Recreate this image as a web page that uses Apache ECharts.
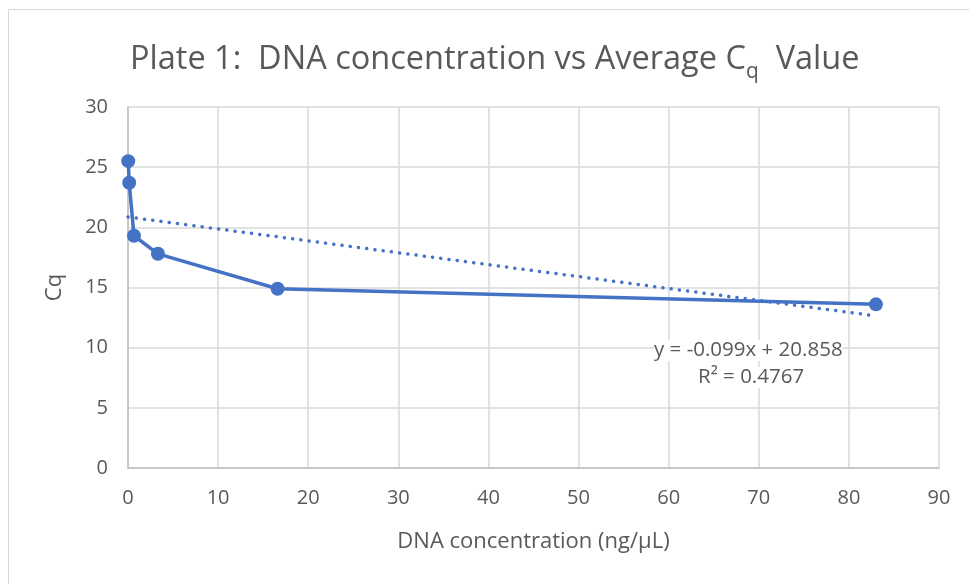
<!DOCTYPE html>
<html>
<head>
<meta charset="utf-8">
<script src="https://cdn.jsdelivr.net/npm/echarts@6/dist/echarts.min.js"></script>
<style>html,body{margin:0;padding:0;background:#fff}#c{width:969px;height:584px}</style>
</head>
<body>
<div id="c"></div>
<script>
// Data
var concentration = [0.0266, 0.133, 0.664, 3.32, 16.6, 83];
var cqValues = [25.5, 23.7, 19.3, 17.8, 14.9, 13.6];
var trendX = [0, 83];
var trendY = [20.858, 12.64];
var xTicks = [0, 10, 20, 30, 40, 50, 60, 70, 80, 90];
var yTicks = [0, 5, 10, 15, 20, 25, 30];
var trendLabel = ['y = -0.099x + 20.858', 'R² = 0.4767'];

var FONT = '"Open Sans", "Noto Sans", sans-serif';
var chart = echarts.init(document.getElementById('c'), null, {renderer: 'canvas'});
var pts = concentration.map(function (x, i) { return [x, cqValues[i]]; });
var tpts = trendX.map(function (x, i) { return [x, trendY[i]]; });

chart.setOption({
  animation: false,
  backgroundColor: '#fff',
  title: {
    text: 'Plate 1:  DNA concentration vs Average C{sub|q}  Value',
    left: 125,
    top: 31,
    textStyle: {
      fontFamily: FONT, fontSize: 32.5, fontWeight: 'normal', color: '#595959',
      rich: { sub: { fontFamily: FONT, fontSize: 21, color: '#595959', verticalAlign: 'bottom', padding: [26, 0, 0, 0] } }
    }
  },
  graphic: [{
    type: 'rect', shape: {x: 8.5, y: 9.5, width: 1000, height: 700},
    style: {fill: 'none', stroke: '#d9d9d9', lineWidth: 1}, silent: true, z: -10
  }, {
    type: 'text', left: 654, top: 340, z: 10,
    style: {text: trendLabel[0], font: '20.5px ' + FONT, fill: '#595959', backgroundColor: '#fff'}
  }, {
    type: 'text', left: 698, top: 367, z: 10,
    style: {text: trendLabel[1], font: '20.5px ' + FONT, fill: '#595959', backgroundColor: '#fff'}
  }],
  grid: {left: 128, right: 30, top: 107, bottom: 116, containLabel: false},
  xAxis: {
    type: 'value', min: xTicks[0], max: xTicks[xTicks.length - 1], interval: xTicks[1] - xTicks[0],
    name: 'DNA concentration (ng/µL)', nameLocation: 'middle', nameGap: 63,
    nameTextStyle: {fontFamily: FONT, fontSize: 22, color: '#595959'},
    axisLine: {show: true, onZero: false, lineStyle: {color: '#bfbfbf', width: 1.5}},
    axisTick: {show: false},
    axisLabel: {fontFamily: FONT, fontSize: 20, color: '#595959', margin: 20},
    splitLine: {show: true, lineStyle: {color: '#d9d9d9', width: 1.5}}
  },
  yAxis: {
    type: 'value', min: yTicks[0], max: yTicks[yTicks.length - 1], interval: yTicks[1] - yTicks[0],
    name: 'Cq', nameLocation: 'middle', nameGap: 62, nameRotate: 90,
    nameTextStyle: {fontFamily: FONT, fontSize: 22, color: '#595959'},
    axisLine: {show: true, onZero: false, lineStyle: {color: '#bfbfbf', width: 1.5}},
    axisTick: {show: false},
    axisLabel: {fontFamily: FONT, fontSize: 20, color: '#595959', margin: 20},
    splitLine: {show: true, lineStyle: {color: '#d9d9d9', width: 1.5}}
  },
  series: [{
    type: 'line', data: tpts, symbol: 'none', z: 2,
    lineStyle: {color: '#4472C4', width: 3.5, type: [0.1, 8.2], cap: 'round'}
  }, {
    type: 'line', data: pts, symbol: 'circle', symbolSize: 14, z: 3,
    lineStyle: {color: '#4472C4', width: 3.5},
    itemStyle: {color: '#4472C4', borderColor: '#4472C4', borderWidth: 0}
  }]
});
</script>
</body>
</html>
